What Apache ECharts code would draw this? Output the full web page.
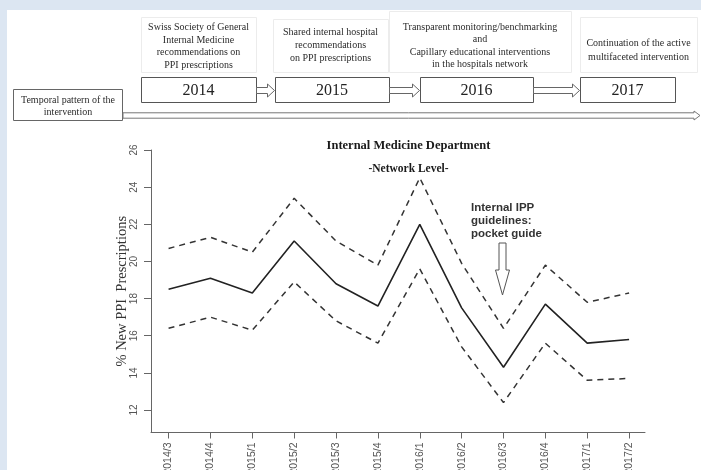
<!DOCTYPE html>
<html>
<head>
<meta charset="utf-8">
<script src="https://cdn.jsdelivr.net/npm/echarts@6/dist/echarts.min.js"></script>
<style>
  html, body { margin: 0; padding: 0; background: #dce6f2; }
  #chart { width: 701px; height: 470px; }
</style>
</head>
<body>
<div id="chart"></div>
<script>
// Quarterly share of new PPI prescriptions with its confidence band
const periods = ['2014/3', '2014/4', '2015/1', '2015/2', '2015/3', '2015/4',
                 '2016/1', '2016/2', '2016/3', '2016/4', '2017/1', '2017/2'];
const pctNew     = [18.5, 19.1, 18.3, 21.1, 18.8, 17.6, 22.0, 17.5, 14.3, 17.7, 15.6, 15.8];
const upperBound = [20.7, 21.3, 20.5, 23.4, 21.1, 19.8, 24.5, 19.9, 16.4, 19.8, 17.8, 18.3];
const lowerBound = [16.4, 17.0, 16.3, 18.9, 16.8, 15.6, 19.6, 15.4, 12.4, 15.6, 13.6, 13.7];
const yTicks = [12, 14, 16, 18, 20, 22, 24, 26];

// Timeline of the intervention shown above the plot
const years = ['2014', '2015', '2016', '2017'];
const yearNotes = [
  ['Swiss Society of General', 'Internal Medicine', 'recommendations on', 'PPI prescriptions'],
  ['Shared internal hospital', 'recommendations', 'on PPI prescriptions'],
  ['Transparent monitoring/benchmarking', 'and', 'Capillary educational interventions', 'in the hospitals network'],
  ['Continuation of the active', 'multifaceted intervention']
];
const timelineLabel = ['Temporal pattern of the', 'intervention'];
const noteText = ['Internal IPP', 'guidelines:', 'pocket guide'];

const serif = '"Liberation Serif", "Times New Roman", serif';
const sans = '"Liberation Sans", Arial, sans-serif';

// layout of the timeline boxes
const yearBoxes = [[141, 256], [275, 389], [420, 533], [580, 675]];
const noteBoxes = [[141, 17, 115, 55], [273, 19, 115, 53], [389, 11, 182, 61], [580, 17, 117, 55]];
const noteLineY = [[27.5, 40, 52.5, 65], [32.5, 45.5, 58.5], [27, 39.5, 52, 64.5], [43.5, 57]];

function hollowArrow(x0, x1, cy, half, headHalf, headLen, stroke) {
  return {
    type: 'polygon',
    shape: { points: [
      [x0, cy - half], [x1 - headLen, cy - half], [x1 - headLen, cy - headHalf],
      [x1, cy], [x1 - headLen, cy + headHalf], [x1 - headLen, cy + half], [x0, cy + half]
    ] },
    style: { fill: '#fff', stroke: stroke, lineWidth: 1 }
  };
}

const graphics = [];
// white panel
graphics.push({ type: 'rect', shape: { x: 7, y: 10, width: 694, height: 460 },
  style: { fill: '#ffffff' }, z: -10 });

// faint note frames and their texts
noteBoxes.forEach(function (b, i) {
  graphics.push({ type: 'rect', shape: { x: b[0] + 0.5, y: b[1] + 0.5, width: b[2], height: b[3] },
    style: { fill: 'none', stroke: '#ececec', lineWidth: 1 } });
  const cx = b[0] + b[2] / 2;
  yearNotes[i].forEach(function (line, k) {
    graphics.push({ type: 'text', x: cx, y: noteLineY[i][k],
      style: { text: line, font: '10px ' + serif, fill: '#2b2b2b', align: 'center', verticalAlign: 'middle' } });
  });
});

// year boxes
years.forEach(function (yr, i) {
  const b = yearBoxes[i];
  graphics.push({ type: 'rect', shape: { x: b[0] + 0.5, y: 77.5, width: b[1] - b[0], height: 25 },
    style: { fill: '#fff', stroke: '#555', lineWidth: 1 } });
  graphics.push({ type: 'text', x: (b[0] + b[1]) / 2, y: 90.5,
    style: { text: yr, font: '16px ' + serif, fill: '#222', align: 'center', verticalAlign: 'middle' } });
  if (i < years.length - 1) {
    graphics.push(hollowArrow(b[1] + 0.5, yearBoxes[i + 1][0] - 0.5, 90.5, 3, 6.5, 7, '#666'));
  }
});

// timeline label box and long arrow
graphics.push({ type: 'rect', shape: { x: 13.5, y: 89.5, width: 109, height: 31 },
  style: { fill: '#fff', stroke: '#666', lineWidth: 1 } });
timelineLabel.forEach(function (line, k) {
  graphics.push({ type: 'text', x: 68, y: 100 + k * 12,
    style: { text: line, font: '10px ' + serif, fill: '#2b2b2b', align: 'center', verticalAlign: 'middle' } });
});
graphics.push(hollowArrow(123, 700, 115.5, 2.7, 4.5, 6, '#777'));

// annotation with downward hollow arrow
noteText.forEach(function (line, k) {
  graphics.push({ type: 'text', x: 471, y: 208 + k * 13,
    style: { text: line, font: 'bold 11.5px ' + sans, fill: '#333', align: 'left', verticalAlign: 'middle' } });
});
graphics.push({
  type: 'polygon',
  shape: { points: [[499, 243], [506, 243], [506, 270], [509.5, 270], [502.5, 295], [495.5, 270], [499, 270]] },
  style: { fill: '#fff', stroke: '#555', lineWidth: 1 }
});

function pairs(values) {
  return values.map(function (v, i) { return [i, v]; });
}
const idx = periods.map(function (_, i) { return i; });

const chart = echarts.init(document.getElementById('chart'), null, { renderer: 'canvas' });
chart.setOption({
  backgroundColor: 'transparent',
  animation: false,
  title: [
    { text: 'Internal Medicine Department', left: 403.5, top: 134, textAlign: 'center',
      textStyle: { fontFamily: serif, fontSize: 12.5, fontWeight: 'bold', color: '#1a1a1a' } },
    { text: '-Network Level-', left: 403.5, top: 158, textAlign: 'center',
      textStyle: { fontFamily: serif, fontSize: 11.5, fontWeight: 'bold', color: '#1a1a1a' } }
  ],
  grid: { left: 151, right: 56, top: 150, bottom: 37.5, containLabel: false, outerBoundsMode: 'none' },
  xAxis: {
    type: 'value', min: -0.42, max: 11.38,
    splitLine: { show: false },
    axisLine: { show: true, onZero: false, lineStyle: { color: '#666', width: 1 } },
    axisTick: { show: true, length: 6, customValues: idx, lineStyle: { color: '#666' } },
    axisLabel: {
      customValues: idx, rotate: 90, margin: 10,
      fontFamily: sans, fontSize: 10.5, color: '#555', hideOverlap: false,
      formatter: function (v) { return periods[Math.round(v)]; }
    }
  },
  yAxis: {
    type: 'value', min: 10.79, max: 26,
    name: '% New PPI  Prescriptions', nameLocation: 'middle', nameGap: 21, nameMoveOverlap: false,
    nameTextStyle: { fontFamily: serif, fontSize: 14.5, color: '#333' },
    splitLine: { show: false },
    axisLine: { show: true, onZero: false, lineStyle: { color: '#666', width: 1 } },
    axisTick: { show: true, length: 7, customValues: yTicks, lineStyle: { color: '#666' } },
    axisLabel: { customValues: yTicks, rotate: 90, margin: 12,
      fontFamily: sans, fontSize: 10, color: '#555' }
  },
  series: [
    { type: 'line', data: pairs(upperBound), symbol: 'none',
      lineStyle: { color: '#333', width: 1.5, type: [6, 5] } },
    { type: 'line', data: pairs(pctNew), symbol: 'none',
      lineStyle: { color: '#222', width: 1.6 } },
    { type: 'line', data: pairs(lowerBound), symbol: 'none',
      lineStyle: { color: '#333', width: 1.5, type: [6, 5] } }
  ],
  graphic: graphics
});
</script>
</body>
</html>
